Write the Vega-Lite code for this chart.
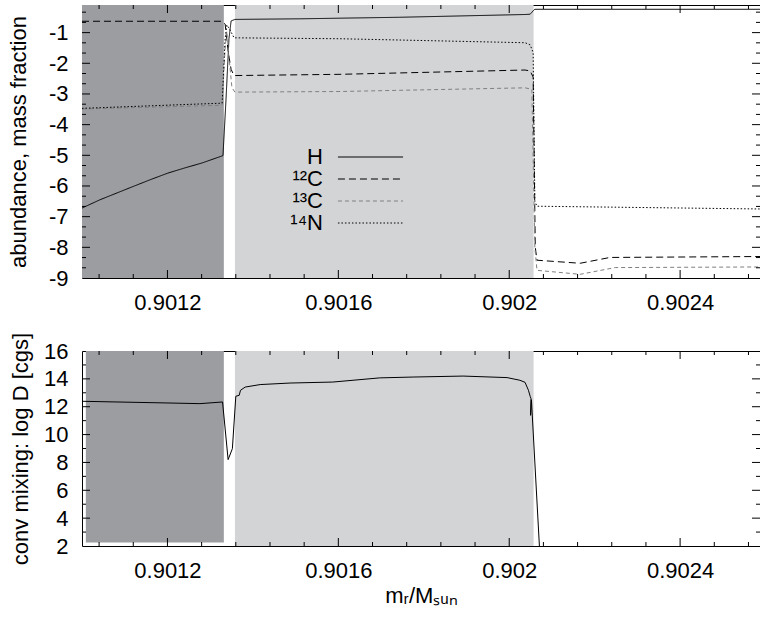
{
  "$schema": "https://vega.github.io/schema/vega-lite/v6.json",
  "padding": {"left": 6, "top": 5, "right": 0, "bottom": 0},
  "spacing": 73,
  "bounds": "flush",
  "config": {
    "view": {"stroke": null},
    "font": "Liberation Sans",
    "tick": {"color": "#000000", "thickness": 1, "opacity": 1},
    "axis": {
      "domainColor": "#000000", "labelColor": "#000000", "titleColor": "#000000",
      "labelFont": "Liberation Sans", "titleFont": "Liberation Sans",
      "labelFontSize": 22, "titleFontSize": 22, "titleFontWeight": "normal",
      "grid": false, "zindex": 1, "domainWidth": 1, "labelOverlap": false, "labelFlush": false, "minExtent": 0
    }
  },
  "datasets": {
    "xMajor": [{"v": 0.9012}, {"v": 0.9016}, {"v": 0.902}, {"v": 0.9024}],
    "xMinor": [
      {"v": 0.90104}, {"v": 0.90112}, {"v": 0.90128}, {"v": 0.90136}, {"v": 0.90144}, {"v": 0.90152}, {"v": 0.90168}, {"v": 0.90176},
      {"v": 0.90184}, {"v": 0.90192}, {"v": 0.90208}, {"v": 0.90216}, {"v": 0.90224}, {"v": 0.90232}, {"v": 0.90248}, {"v": 0.90256}
    ],
    "yTopMajor": [{"v": -1}, {"v": -2}, {"v": -3}, {"v": -4}, {"v": -5}, {"v": -6}, {"v": -7}, {"v": -8}],
    "yTopMinor": [
      {"v": -0.3333}, {"v": -0.6667}, {"v": -1.3333}, {"v": -1.6667}, {"v": -2.3333}, {"v": -2.6667}, {"v": -3.3333}, {"v": -3.6667},
      {"v": -4.3333}, {"v": -4.6667}, {"v": -5.3333}, {"v": -5.6667}, {"v": -6.3333}, {"v": -6.6667}, {"v": -7.3333}, {"v": -7.6667},
      {"v": -8.3333}, {"v": -8.6667}
    ],
    "yBotMajor": [{"v": 4}, {"v": 6}, {"v": 8}, {"v": 10}, {"v": 12}, {"v": 14}],
    "yBotMinor": [{"v": 3}, {"v": 5}, {"v": 7}, {"v": 9}, {"v": 11}, {"v": 13}, {"v": 15}],
    "zonesTop": [
      {"zone": "dark", "x1": 0.9010, "x2": 0.901332, "y1": -9, "y2": -0.1},
      {"zone": "light", "x1": 0.901358, "x2": 0.902057, "y1": -9, "y2": -0.1}
    ],
    "zonesBot": [
      {"zone": "dark", "x1": 0.901009, "x2": 0.901332, "y1": 2.25, "y2": 16},
      {"zone": "light", "x1": 0.901358, "x2": 0.902057, "y1": 2, "y2": 16}
    ],
    "abund": [
      {"s": "H", "i": 1, "x": 0.901000, "y": -6.72},
      {"s": "H", "i": 2, "x": 0.901042, "y": -6.45},
      {"s": "H", "i": 3, "x": 0.901119, "y": -6.02},
      {"s": "H", "i": 4, "x": 0.901159, "y": -5.80},
      {"s": "H", "i": 5, "x": 0.901201, "y": -5.58},
      {"s": "H", "i": 6, "x": 0.901241, "y": -5.41},
      {"s": "H", "i": 7, "x": 0.901281, "y": -5.25},
      {"s": "H", "i": 8, "x": 0.901330, "y": -5.01},
      {"s": "H", "i": 9, "x": 0.901337, "y": -3.2},
      {"s": "H", "i": 10, "x": 0.901344, "y": -1.2},
      {"s": "H", "i": 11, "x": 0.901349, "y": -0.62},
      {"s": "H", "i": 12, "x": 0.901358, "y": -0.57},
      {"s": "H", "i": 13, "x": 0.901510, "y": -0.55},
      {"s": "H", "i": 14, "x": 0.901744, "y": -0.50},
      {"s": "H", "i": 15, "x": 0.902037, "y": -0.41},
      {"s": "H", "i": 16, "x": 0.902049, "y": -0.40},
      {"s": "H", "i": 17, "x": 0.902058, "y": -0.26},
      {"s": "H", "i": 18, "x": 0.902060, "y": -0.24},
      {"s": "H", "i": 19, "x": 0.902587, "y": -0.24},
      {"s": "¹²C", "i": 1, "x": 0.901000, "y": -0.63},
      {"s": "¹²C", "i": 2, "x": 0.901328, "y": -0.63},
      {"s": "¹²C", "i": 3, "x": 0.901335, "y": -0.72},
      {"s": "¹²C", "i": 4, "x": 0.901342, "y": -1.6},
      {"s": "¹²C", "i": 5, "x": 0.901349, "y": -2.2},
      {"s": "¹²C", "i": 6, "x": 0.901356, "y": -2.40},
      {"s": "¹²C", "i": 7, "x": 0.901604, "y": -2.36},
      {"s": "¹²C", "i": 8, "x": 0.902037, "y": -2.22},
      {"s": "¹²C", "i": 9, "x": 0.902049, "y": -2.25},
      {"s": "¹²C", "i": 10, "x": 0.902056, "y": -2.45},
      {"s": "¹²C", "i": 11, "x": 0.902061, "y": -8.0},
      {"s": "¹²C", "i": 12, "x": 0.902065, "y": -8.42},
      {"s": "¹²C", "i": 13, "x": 0.902166, "y": -8.52},
      {"s": "¹²C", "i": 14, "x": 0.902236, "y": -8.33},
      {"s": "¹²C", "i": 15, "x": 0.902587, "y": -8.30},
      {"s": "¹³C", "i": 1, "x": 0.901000, "y": -3.49},
      {"s": "¹³C", "i": 2, "x": 0.901328, "y": -3.37},
      {"s": "¹³C", "i": 3, "x": 0.901335, "y": -1.5},
      {"s": "¹³C", "i": 4, "x": 0.901339, "y": -0.95},
      {"s": "¹³C", "i": 5, "x": 0.901344, "y": -1.8},
      {"s": "¹³C", "i": 6, "x": 0.901351, "y": -2.8},
      {"s": "¹³C", "i": 7, "x": 0.901358, "y": -2.94},
      {"s": "¹³C", "i": 8, "x": 0.901604, "y": -2.92},
      {"s": "¹³C", "i": 9, "x": 0.902037, "y": -2.80},
      {"s": "¹³C", "i": 10, "x": 0.902053, "y": -2.85},
      {"s": "¹³C", "i": 11, "x": 0.902060, "y": -8.0},
      {"s": "¹³C", "i": 12, "x": 0.902065, "y": -8.75},
      {"s": "¹³C", "i": 13, "x": 0.902166, "y": -8.88},
      {"s": "¹³C", "i": 14, "x": 0.902248, "y": -8.66},
      {"s": "¹³C", "i": 15, "x": 0.902587, "y": -8.64},
      {"s": "¹⁴N", "i": 1, "x": 0.901000, "y": -3.47},
      {"s": "¹⁴N", "i": 2, "x": 0.901328, "y": -3.30},
      {"s": "¹⁴N", "i": 3, "x": 0.901335, "y": -1.2},
      {"s": "¹⁴N", "i": 4, "x": 0.901339, "y": -0.75},
      {"s": "¹⁴N", "i": 5, "x": 0.901346, "y": -0.9},
      {"s": "¹⁴N", "i": 6, "x": 0.901356, "y": -1.17},
      {"s": "¹⁴N", "i": 7, "x": 0.901604, "y": -1.20},
      {"s": "¹⁴N", "i": 8, "x": 0.902037, "y": -1.33},
      {"s": "¹⁴N", "i": 9, "x": 0.902049, "y": -1.40},
      {"s": "¹⁴N", "i": 10, "x": 0.902056, "y": -1.65},
      {"s": "¹⁴N", "i": 11, "x": 0.902060, "y": -6.5},
      {"s": "¹⁴N", "i": 12, "x": 0.902065, "y": -6.66},
      {"s": "¹⁴N", "i": 13, "x": 0.902587, "y": -6.75}
    ],
    "mix": [
      {"i": 1, "x": 0.901000, "y": 12.39},
      {"i": 2, "x": 0.901199, "y": 12.27},
      {"i": 3, "x": 0.901276, "y": 12.22},
      {"i": 4, "x": 0.901329, "y": 12.34},
      {"i": 5, "x": 0.901342, "y": 8.20},
      {"i": 6, "x": 0.901352, "y": 8.99},
      {"i": 7, "x": 0.901360, "y": 12.75},
      {"i": 8, "x": 0.901368, "y": 12.82},
      {"i": 9, "x": 0.901371, "y": 13.18},
      {"i": 10, "x": 0.901382, "y": 13.41},
      {"i": 11, "x": 0.901417, "y": 13.59},
      {"i": 12, "x": 0.901487, "y": 13.70},
      {"i": 13, "x": 0.901587, "y": 13.77},
      {"i": 14, "x": 0.901697, "y": 14.07},
      {"i": 15, "x": 0.901775, "y": 14.13},
      {"i": 16, "x": 0.901892, "y": 14.20},
      {"i": 17, "x": 0.901995, "y": 14.09},
      {"i": 18, "x": 0.902025, "y": 13.90},
      {"i": 19, "x": 0.902037, "y": 13.75},
      {"i": 20, "x": 0.902045, "y": 13.18},
      {"i": 21, "x": 0.902049, "y": 12.75},
      {"i": 22, "x": 0.902051, "y": 12.58},
      {"i": 23, "x": 0.902050, "y": 11.38},
      {"i": 24, "x": 0.902052, "y": 12.5},
      {"i": 25, "x": 0.902071, "y": 1.8}
    ]
  },
  "vconcat": [
    {
      "width": 678,
      "height": 273,
      "layer": [
        {
          "data": {"name": "zonesTop"},
          "mark": {"type": "rect"},
          "encoding": {
            "x": {"field": "x1", "type": "quantitative", "scale": {"domain": [0.9010, 0.902587], "nice": false, "zero": false},
              "axis": {"orient": "bottom", "values": [0.9012, 0.9016, 0.902, 0.9024], "ticks": false, "labelPadding": 14, "labelExpr": "format(datum.value, '.4~f')", "title": null, "domain": true}},
            "x2": {"field": "x2"},
            "y": {"field": "y1", "type": "quantitative", "scale": {"domain": [-9, -0.1], "nice": false, "zero": false},
              "axis": {"orient": "left", "values": [-1, -2, -3, -4, -5, -6, -7, -8, -9], "ticks": false, "labelPadding": 14, "labelExpr": "'' + datum.value", "title": "abundance, mass fraction", "titleX": -57, "titleBaseline": "alphabetic", "domain": true}},
            "y2": {"field": "y2"},
            "color": {"field": "zone", "type": "nominal", "scale": {"domain": ["dark", "light"], "range": ["#9c9da1", "#d3d4d6"]}, "legend": null}
          }
        },
        {
          "data": {"name": "abund"},
          "mark": {"type": "line", "strokeWidth": 1, "clip": true},
          "encoding": {
            "x": {"field": "x", "type": "quantitative", "scale": {"domain": [0.9010, 0.902587], "nice": false, "zero": false},
              "axis": {"orient": "top", "ticks": false, "labels": false, "title": null, "domain": true}},
            "y": {"field": "y", "type": "quantitative", "scale": {"domain": [-9, -0.1], "nice": false, "zero": false},
              "axis": {"orient": "right", "ticks": false, "labels": false, "title": null, "domain": true}},
            "color": {"field": "s", "type": "nominal", "scale": {"domain": ["H", "¹²C", "¹³C", "¹⁴N"], "range": ["#000000", "#000000", "#808080", "#000000"]},
              "legend": {"orient": "none", "legendX": 277.5, "legendY": 141, "title": null, "symbolType": "M-3.1,0H3.1", "symbolSize": 441, "symbolStrokeWidth": 1, "symbolFillColor": "transparent", "labelFontSize": 22, "labelAlign": "right", "labelOffset": -58.5, "rowPadding": 0, "padding": 0, "labelLimit": 300, "labelColor": "#000000",
                "encode": {"symbols": {"update": {"strokeDash": {"signal": "datum.value === '¹²C' ? [7, 4] : datum.value === '¹³C' ? [4, 3] : datum.value === '¹⁴N' ? [1.5, 2] : [1, 0]"}}}}}},
            "strokeDash": {"field": "s", "type": "nominal", "scale": {"domain": ["H", "¹²C", "¹³C", "¹⁴N"], "range": [[1, 0], [7, 4], [4, 3], [1.5, 2]]}, "legend": null},
            "order": {"field": "i", "type": "quantitative"}
          }
        },
        {
          "data": {"name": "xMajor"},
          "mark": {"type": "tick", "orient": "vertical", "size": 8, "yOffset": -4},
          "encoding": {
            "x": {"field": "v", "type": "quantitative", "scale": {"domain": [0.9010, 0.902587], "nice": false, "zero": false}, "axis": null},
            "y": {"datum": -9, "type": "quantitative", "scale": {"domain": [-9, -0.1], "nice": false, "zero": false}, "axis": null}
          }
        },
        {
          "data": {"name": "xMinor"},
          "mark": {"type": "tick", "orient": "vertical", "size": 4, "yOffset": -2},
          "encoding": {
            "x": {"field": "v", "type": "quantitative", "scale": {"domain": [0.9010, 0.902587], "nice": false, "zero": false}, "axis": null},
            "y": {"datum": -9, "type": "quantitative", "scale": {"domain": [-9, -0.1], "nice": false, "zero": false}, "axis": null}
          }
        },
        {
          "data": {"name": "xMajor"},
          "mark": {"type": "tick", "orient": "vertical", "size": 8, "yOffset": 4},
          "encoding": {
            "x": {"field": "v", "type": "quantitative", "scale": {"domain": [0.9010, 0.902587], "nice": false, "zero": false}, "axis": null},
            "y": {"datum": -0.1, "type": "quantitative", "scale": {"domain": [-9, -0.1], "nice": false, "zero": false}, "axis": null}
          }
        },
        {
          "data": {"name": "xMinor"},
          "mark": {"type": "tick", "orient": "vertical", "size": 4, "yOffset": 2},
          "encoding": {
            "x": {"field": "v", "type": "quantitative", "scale": {"domain": [0.9010, 0.902587], "nice": false, "zero": false}, "axis": null},
            "y": {"datum": -0.1, "type": "quantitative", "scale": {"domain": [-9, -0.1], "nice": false, "zero": false}, "axis": null}
          }
        },
        {
          "data": {"name": "yTopMajor"},
          "mark": {"type": "tick", "orient": "horizontal", "size": 8, "xOffset": 4},
          "encoding": {
            "y": {"field": "v", "type": "quantitative", "scale": {"domain": [-9, -0.1], "nice": false, "zero": false}, "axis": null},
            "x": {"datum": 0.9010, "type": "quantitative", "scale": {"domain": [0.9010, 0.902587], "nice": false, "zero": false}, "axis": null}
          }
        },
        {
          "data": {"name": "yTopMinor"},
          "mark": {"type": "tick", "orient": "horizontal", "size": 4, "xOffset": 2},
          "encoding": {
            "y": {"field": "v", "type": "quantitative", "scale": {"domain": [-9, -0.1], "nice": false, "zero": false}, "axis": null},
            "x": {"datum": 0.9010, "type": "quantitative", "scale": {"domain": [0.9010, 0.902587], "nice": false, "zero": false}, "axis": null}
          }
        },
        {
          "data": {"name": "yTopMajor"},
          "mark": {"type": "tick", "orient": "horizontal", "size": 8, "xOffset": -4},
          "encoding": {
            "y": {"field": "v", "type": "quantitative", "scale": {"domain": [-9, -0.1], "nice": false, "zero": false}, "axis": null},
            "x": {"datum": 0.902587, "type": "quantitative", "scale": {"domain": [0.9010, 0.902587], "nice": false, "zero": false}, "axis": null}
          }
        },
        {
          "data": {"name": "yTopMinor"},
          "mark": {"type": "tick", "orient": "horizontal", "size": 4, "xOffset": -2},
          "encoding": {
            "y": {"field": "v", "type": "quantitative", "scale": {"domain": [-9, -0.1], "nice": false, "zero": false}, "axis": null},
            "x": {"datum": 0.902587, "type": "quantitative", "scale": {"domain": [0.9010, 0.902587], "nice": false, "zero": false}, "axis": null}
          }
        }
      ],
      "resolve": {"axis": {"x": "independent", "y": "independent"}, "scale": {"color": "independent"}}
    },
    {
      "width": 678,
      "height": 195,
      "layer": [
        {
          "data": {"name": "zonesBot"},
          "mark": {"type": "rect"},
          "encoding": {
            "x": {"field": "x1", "type": "quantitative", "scale": {"domain": [0.9010, 0.902587], "nice": false, "zero": false},
              "axis": {"orient": "bottom", "values": [0.9012, 0.9016, 0.902, 0.9024], "ticks": false, "labelPadding": 14, "labelExpr": "format(datum.value, '.4~f')", "title": "mᵣ/Mₛᵤₙ", "titleY": 56.3, "titleBaseline": "alphabetic", "domain": true}},
            "x2": {"field": "x2"},
            "y": {"field": "y1", "type": "quantitative", "scale": {"domain": [2, 16], "nice": false, "zero": false},
              "axis": {"orient": "left", "values": [2, 4, 6, 8, 10, 12, 14, 16], "ticks": false, "labelPadding": 14, "labelExpr": "'' + datum.value", "title": "conv mixing: log D [cgs]", "titleX": -55, "titleBaseline": "alphabetic", "domain": true}},
            "y2": {"field": "y2"},
            "color": {"field": "zone", "type": "nominal", "scale": {"domain": ["dark", "light"], "range": ["#9c9da1", "#d3d4d6"]}, "legend": null}
          }
        },
        {
          "data": {"name": "mix"},
          "mark": {"type": "line", "strokeWidth": 1, "color": "#000000", "clip": true},
          "encoding": {
            "x": {"field": "x", "type": "quantitative", "scale": {"domain": [0.9010, 0.902587], "nice": false, "zero": false},
              "axis": {"orient": "top", "ticks": false, "labels": false, "title": null, "domain": true}},
            "y": {"field": "y", "type": "quantitative", "scale": {"domain": [2, 16], "nice": false, "zero": false},
              "axis": {"orient": "right", "ticks": false, "labels": false, "title": null, "domain": true}},
            "order": {"field": "i", "type": "quantitative"}
          }
        },
        {
          "data": {"name": "xMajor"},
          "mark": {"type": "tick", "orient": "vertical", "size": 8, "yOffset": -4},
          "encoding": {
            "x": {"field": "v", "type": "quantitative", "scale": {"domain": [0.9010, 0.902587], "nice": false, "zero": false}, "axis": null},
            "y": {"datum": 2, "type": "quantitative", "scale": {"domain": [2, 16], "nice": false, "zero": false}, "axis": null}
          }
        },
        {
          "data": {"name": "xMinor"},
          "mark": {"type": "tick", "orient": "vertical", "size": 4, "yOffset": -2},
          "encoding": {
            "x": {"field": "v", "type": "quantitative", "scale": {"domain": [0.9010, 0.902587], "nice": false, "zero": false}, "axis": null},
            "y": {"datum": 2, "type": "quantitative", "scale": {"domain": [2, 16], "nice": false, "zero": false}, "axis": null}
          }
        },
        {
          "data": {"name": "xMajor"},
          "mark": {"type": "tick", "orient": "vertical", "size": 8, "yOffset": 4},
          "encoding": {
            "x": {"field": "v", "type": "quantitative", "scale": {"domain": [0.9010, 0.902587], "nice": false, "zero": false}, "axis": null},
            "y": {"datum": 16, "type": "quantitative", "scale": {"domain": [2, 16], "nice": false, "zero": false}, "axis": null}
          }
        },
        {
          "data": {"name": "xMinor"},
          "mark": {"type": "tick", "orient": "vertical", "size": 4, "yOffset": 2},
          "encoding": {
            "x": {"field": "v", "type": "quantitative", "scale": {"domain": [0.9010, 0.902587], "nice": false, "zero": false}, "axis": null},
            "y": {"datum": 16, "type": "quantitative", "scale": {"domain": [2, 16], "nice": false, "zero": false}, "axis": null}
          }
        },
        {
          "data": {"name": "yBotMajor"},
          "mark": {"type": "tick", "orient": "horizontal", "size": 8, "xOffset": 4},
          "encoding": {
            "y": {"field": "v", "type": "quantitative", "scale": {"domain": [2, 16], "nice": false, "zero": false}, "axis": null},
            "x": {"datum": 0.9010, "type": "quantitative", "scale": {"domain": [0.9010, 0.902587], "nice": false, "zero": false}, "axis": null}
          }
        },
        {
          "data": {"name": "yBotMinor"},
          "mark": {"type": "tick", "orient": "horizontal", "size": 4, "xOffset": 2},
          "encoding": {
            "y": {"field": "v", "type": "quantitative", "scale": {"domain": [2, 16], "nice": false, "zero": false}, "axis": null},
            "x": {"datum": 0.9010, "type": "quantitative", "scale": {"domain": [0.9010, 0.902587], "nice": false, "zero": false}, "axis": null}
          }
        },
        {
          "data": {"name": "yBotMajor"},
          "mark": {"type": "tick", "orient": "horizontal", "size": 8, "xOffset": -4},
          "encoding": {
            "y": {"field": "v", "type": "quantitative", "scale": {"domain": [2, 16], "nice": false, "zero": false}, "axis": null},
            "x": {"datum": 0.902587, "type": "quantitative", "scale": {"domain": [0.9010, 0.902587], "nice": false, "zero": false}, "axis": null}
          }
        },
        {
          "data": {"name": "yBotMinor"},
          "mark": {"type": "tick", "orient": "horizontal", "size": 4, "xOffset": -2},
          "encoding": {
            "y": {"field": "v", "type": "quantitative", "scale": {"domain": [2, 16], "nice": false, "zero": false}, "axis": null},
            "x": {"datum": 0.902587, "type": "quantitative", "scale": {"domain": [0.9010, 0.902587], "nice": false, "zero": false}, "axis": null}
          }
        }
      ],
      "resolve": {"axis": {"x": "independent", "y": "independent"}}
    }
  ]
}
